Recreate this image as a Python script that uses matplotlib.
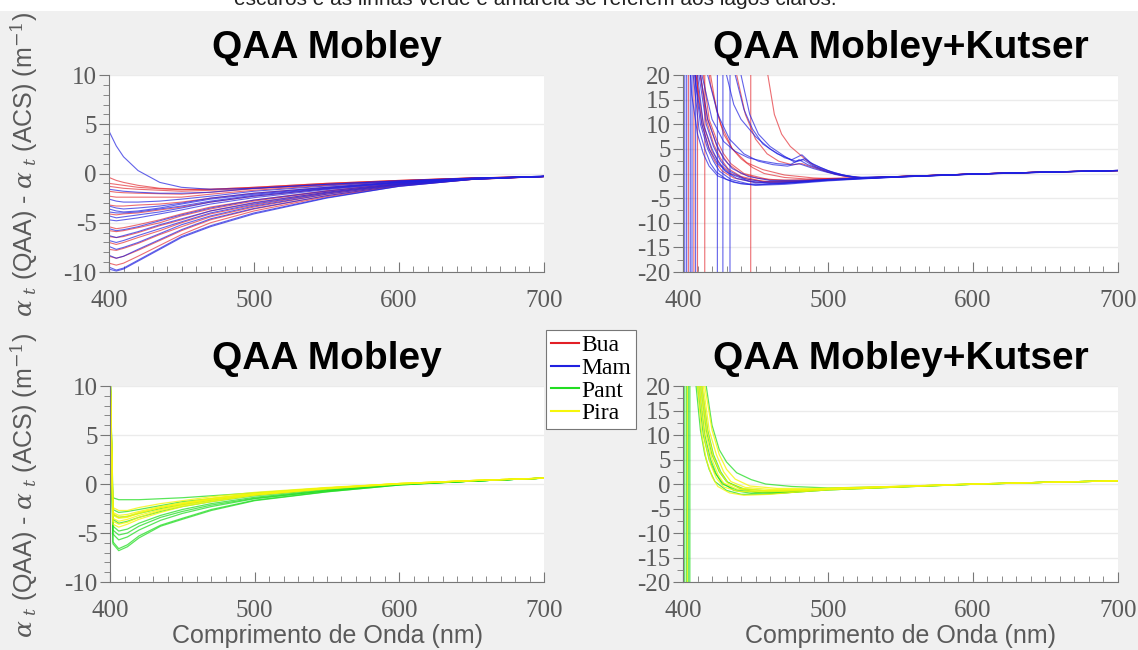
import matplotlib.pyplot as plt
from matplotlib.ticker import MultipleLocator
from matplotlib.lines import Line2D
from matplotlib.patches import Rectangle

plt.rcParams['axes.unicode_minus'] = False
plt.rcParams['mathtext.fontset'] = 'dejavuserif'

# ---- QAA Mobley, lagos escuros (Bua / Mam) ----
wl_escuro = [400, 405, 410, 420, 435, 450, 470, 500, 550, 600, 650, 700]
bua_mobley = [
    [-0.4, -0.7, -0.9, -1.2, -1.5, -1.6, -1.6, -1.4, -1.0, -0.7, -0.45, -0.3],
    [-1.0, -1.1, -1.2, -1.4, -1.55, -1.65, -1.6, -1.4, -1.0, -0.7, -0.45, -0.3],
    [-1.3, -1.4, -1.5, -1.6, -1.7, -1.8, -1.7, -1.5, -1.05, -0.72, -0.46, -0.3],
    [-1.8, -1.9, -1.95, -2.0, -2.05, -2.1, -1.9, -1.55, -1.15, -0.75, -0.47, -0.3],
    [-2.3, -2.4, -2.4, -2.4, -2.4, -2.4, -2.1, -1.7, -1.2, -0.8, -0.48, -0.3],
    [-3.2, -3.3, -3.3, -3.2, -3.1, -2.9, -2.5, -2.0, -1.4, -0.85, -0.5, -0.3],
    [-4.1, -4.2, -4.1, -4.0, -3.7, -3.4, -2.9, -2.3, -1.55, -0.92, -0.52, -0.3],
    [-5.4, -5.6, -5.5, -5.2, -4.7, -4.1, -3.4, -2.7, -1.75, -1.0, -0.54, -0.3],
    [-5.8, -5.9, -5.8, -5.5, -5.0, -4.3, -3.6, -2.8, -1.8, -1.03, -0.55, -0.3],
    [-6.4, -6.5, -6.4, -6.0, -5.3, -4.7, -3.8, -3.0, -1.9, -1.08, -0.56, -0.3],
    [-7.0, -7.2, -7.0, -6.5, -5.8, -5.0, -4.1, -3.2, -2.0, -1.12, -0.57, -0.3],
    [-7.7, -7.8, -7.6, -7.1, -6.2, -5.4, -4.4, -3.4, -2.1, -1.17, -0.58, -0.3],
    [-8.4, -8.6, -8.4, -7.8, -6.8, -5.8, -4.7, -3.6, -2.25, -1.22, -0.6, -0.3],
    [-9.1, -9.3, -9.1, -8.4, -7.3, -6.2, -5.0, -3.8, -2.35, -1.27, -0.61, -0.3],
]
mam_mobley = [
    [4.3, 2.8, 1.7, 0.3, -0.9, -1.4, -1.6, -1.5, -1.1, -0.75, -0.5, -0.3],
    [-1.6, -1.7, -1.8, -1.9, -2.0, -2.0, -1.9, -1.5, -1.1, -0.74, -0.46, -0.3],
    [-2.6, -2.8, -2.9, -2.9, -2.8, -2.6, -2.3, -1.8, -1.27, -0.8, -0.48, -0.3],
    [-3.3, -3.5, -3.6, -3.5, -3.3, -3.0, -2.5, -2.0, -1.4, -0.85, -0.5, -0.3],
    [-3.6, -3.8, -3.9, -3.8, -3.5, -3.1, -2.6, -2.1, -1.45, -0.88, -0.5, -0.3],
    [-3.9, -4.0, -4.0, -3.9, -3.6, -3.3, -2.8, -2.2, -1.5, -0.9, -0.51, -0.3],
    [-4.3, -4.5, -4.4, -4.2, -3.9, -3.5, -2.9, -2.3, -1.56, -0.93, -0.52, -0.3],
    [-4.7, -4.8, -4.7, -4.5, -4.1, -3.7, -3.1, -2.45, -1.63, -0.96, -0.53, -0.3],
    [-5.6, -5.8, -5.7, -5.4, -4.8, -4.2, -3.5, -2.7, -1.78, -1.02, -0.54, -0.3],
    [-6.3, -6.5, -6.3, -5.9, -5.2, -4.6, -3.8, -2.95, -1.9, -1.07, -0.56, -0.3],
    [-6.8, -7.0, -6.8, -6.3, -5.6, -4.9, -4.0, -3.1, -1.98, -1.1, -0.57, -0.3],
    [-7.4, -7.7, -7.5, -7.0, -6.1, -5.2, -4.3, -3.3, -2.1, -1.15, -0.58, -0.3],
    [-8.3, -8.6, -8.4, -7.7, -6.7, -5.7, -4.6, -3.55, -2.25, -1.2, -0.6, -0.3],
    [-9.5, -9.8, -9.6, -8.8, -7.6, -6.4, -5.3, -4.0, -2.45, -1.3, -0.6, -0.25],
    [-9.7, -9.9, -9.7, -8.9, -7.7, -6.5, -5.4, -4.1, -2.5, -1.3, -0.6, -0.25],
]

# ---- QAA Mobley, lagos claros (Pant / Pira) ----
wl_claro = [400, 402, 406, 412, 420, 435, 450, 470, 500, 550, 600, 650, 700]
pant_mobley = [
    [12, -1.4, -1.6, -1.6, -1.6, -1.5, -1.4, -1.2, -0.9, -0.4, 0.0, 0.3, 0.6],
    [12, -2.6, -2.9, -2.8, -2.6, -2.2, -1.8, -1.5, -1.0, -0.45, 0.0, 0.3, 0.6],
    [12, -3.1, -3.4, -3.3, -3.0, -2.5, -2.1, -1.65, -1.1, -0.5, 0.0, 0.3, 0.6],
    [12, -3.6, -4.0, -3.8, -3.4, -2.8, -2.3, -1.8, -1.2, -0.55, -0.05, 0.3, 0.6],
    [12, -4.3, -4.8, -4.6, -4.0, -3.2, -2.6, -2.0, -1.35, -0.62, -0.05, 0.3, 0.6],
    [12, -4.7, -5.2, -5.0, -4.3, -3.4, -2.8, -2.15, -1.45, -0.68, -0.05, 0.3, 0.6],
    [12, -5.1, -5.7, -5.4, -4.7, -3.7, -3.0, -2.3, -1.5, -0.7, -0.05, 0.3, 0.6],
    [12, -5.9, -6.6, -6.2, -5.3, -4.2, -3.5, -2.6, -1.65, -0.78, -0.1, 0.3, 0.6],
    [12, -6.1, -6.8, -6.4, -5.5, -4.3, -3.6, -2.7, -1.7, -0.8, -0.1, 0.3, 0.6],
]
pira_mobley = [
    [12, -2.4, -2.7, -2.7, -2.4, -2.0, -1.7, -1.3, -0.85, -0.35, 0.05, 0.35, 0.6],
    [12, -2.9, -3.2, -3.1, -2.8, -2.3, -1.9, -1.45, -0.95, -0.4, 0.05, 0.35, 0.6],
    [12, -3.2, -3.5, -3.4, -3.0, -2.4, -2.0, -1.55, -1.0, -0.4, 0.05, 0.35, 0.6],
    [12, -3.5, -3.8, -3.6, -3.2, -2.6, -2.1, -1.6, -1.05, -0.45, 0.05, 0.35, 0.6],
    [12, -3.8, -4.1, -3.9, -3.4, -2.7, -2.2, -1.7, -1.1, -0.45, 0.0, 0.35, 0.6],
    [12, -4.1, -4.4, -4.1, -3.6, -2.9, -2.3, -1.8, -1.15, -0.5, 0.0, 0.35, 0.6],
    [12, -3.0, -3.4, -3.3, -2.9, -2.4, -2.0, -1.5, -1.0, -0.42, 0.05, 0.35, 0.6],
]

# ---- QAA Mobley+Kutser: pares (comprimento de onda, valor) por curva ----
bua_kutser = [
    [(403.5, -300), (403.9, 300), (406, 55), (409, 20), (413, 10), (418, 5), (422, 2.5), (427, 0.5), (435, -0.9), (450, -1.8), (470, -1.8), (500, -1.3), (520, -1.0), (550, -0.65), (600, -0.12), (650, 0.28), (700, 0.6)],
    [(407.3, -300), (407.7, 300), (409, 60), (412, 20), (416, 11), (421, 6), (426, 3), (431, 1), (440, -0.6), (455, -1.6), (480, -1.6), (500, -1.2), (520, -1.0), (550, -0.6), (600, -0.1), (650, 0.3), (700, 0.62)],
    [(409.8, -300), (410.2, 300), (411, 70), (414, 20), (418, 11), (423, 7), (428, 4), (433, 2), (442, 0), (460, -1.3), (485, -1.4), (500, -1.1), (520, -0.95), (550, -0.6), (600, -0.1), (650, 0.3), (700, 0.6)],
    [(414.8, -300), (415.2, 300), (416, 70), (419, 20), (423, 13), (428, 8), (434, 5), (440, 3), (448, 1.2), (456, 0), (470, -0.8), (485, -1.1), (500, -1.0), (520, -0.9), (550, -0.6), (600, -0.1), (650, 0.3), (700, 0.6)],
    [(446.5, -300), (446.9, 300), (452, 60), (458.5, 20), (463, 12), (468, 8), (474, 5.5), (480, 4), (486, 2.5), (492, 1.3), (500, 0.3), (510, -0.5), (525, -0.9), (550, -0.65), (600, -0.1), (650, 0.3), (700, 0.62)],
    [(400, 300), (430, 45), (437, 20), (443, 12), (450, 7), (458, 4), (466, 2.5), (475, 1.8), (482, 2.0), (490, 1.2), (500, 0.3), (512, -0.5), (525, -0.9), (550, -0.6), (600, -0.1), (650, 0.3), (700, 0.6)],
    [(400, 300), (405, 40), (409, 20), (414, 10), (420, 4.5), (426, 1.8), (433, 0), (445, -1.2), (460, -1.7), (480, -1.6), (500, -1.2), (520, -1.0), (550, -0.62), (600, -0.12), (650, 0.28), (700, 0.6)],
    [(400, 300), (408, 40), (412, 20), (417, 11), (424, 5), (431, 2), (440, 0), (452, -1.0), (470, -1.4), (500, -1.1), (520, -0.95), (550, -0.6), (600, -0.1), (650, 0.3), (700, 0.6)],
    [(400, 300), (414, 30), (419, 18), (426, 10), (434, 5), (444, 2.2), (455, 0.8), (470, -0.3), (490, -0.9), (500, -1.0), (520, -0.9), (550, -0.6), (600, -0.1), (650, 0.3), (700, 0.6)],
]
mam_kutser = [
    [(401.0, -300), (401.4, 300), (404, 45), (407, 20), (411, 9), (415, 5), (419, 2), (423, 0.3), (430, -1.2), (440, -2.1), (450, -2.3), (470, -2.0), (500, -1.4), (520, -1.1), (550, -0.7), (600, -0.15), (650, 0.25), (700, 0.6)],
    [(402.3, -300), (402.7, 300), (405, 50), (408, 20), (412, 10), (417, 5), (421, 2.5), (425, 0.5), (433, -1.2), (445, -2.1), (455, -2.2), (475, -1.9), (500, -1.3), (520, -1.0), (550, -0.65), (600, -0.12), (650, 0.28), (700, 0.62)],
    [(404.8, -300), (405.2, 300), (407, 60), (410, 20), (414, 10), (420, 5), (424, 2.5), (429, 0.5), (437, -1.0), (450, -1.9), (470, -1.9), (500, -1.3), (520, -1.05), (550, -0.68), (600, -0.13), (650, 0.27), (700, 0.6)],
    [(406.0, -300), (406.4, 300), (408, 60), (411, 20), (416, 10), (421, 5.5), (426, 2.5), (432, 0.5), (442, -1.0), (455, -1.7), (480, -1.6), (500, -1.2), (520, -1.0), (550, -0.65), (600, -0.12), (650, 0.28), (700, 0.6)],
    [(408.5, -300), (408.9, 300), (410, 60), (412, 20), (417, 11), (423, 6), (428, 3), (434, 1), (445, -0.6), (460, -1.4), (485, -1.4), (500, -1.2), (520, -1.0), (550, -0.62), (600, -0.1), (650, 0.3), (700, 0.62)],
    [(423.5, -300), (423.9, 300), (427, 50), (430, 20), (435, 14), (440, 11), (450, 7.5), (460, 5), (470, 3.2), (478, 2.5), (484, 3), (490, 1.8), (500, 0.6), (510, -0.3), (520, -0.8), (550, -0.6), (600, -0.1), (650, 0.3), (700, 0.62)],
    [(427.3, -300), (427.7, 300), (432, 40), (436, 20), (442, 13), (448, 9), (455, 6), (465, 4), (475, 2.8), (482, 3.8), (488, 2.2), (495, 1.2), (505, 0), (520, -0.8), (550, -0.6), (600, -0.1), (650, 0.3), (700, 0.62)],
    [(432.2, -300), (432.6, 300), (436, 45), (440, 20), (446, 12), (452, 8), (460, 5.5), (470, 3.5), (477, 2.3), (483, 2.8), (490, 1.5), (500, 0.5), (512, -0.4), (525, -0.9), (550, -0.62), (600, -0.1), (650, 0.3), (700, 0.62)],
    [(400, 300), (403, 30), (406, 16), (410, 8), (414, 4), (418, 1.5), (424, -0.5), (435, -1.8), (450, -2.4), (470, -2.2), (500, -1.5), (520, -1.15), (550, -0.7), (600, -0.15), (650, 0.25), (700, 0.6)],
    [(400, 300), (405, 35), (409, 18), (413, 10), (418, 5), (424, 2), (432, 0), (445, -1.5), (460, -2.0), (480, -1.8), (500, -1.3), (520, -1.05), (550, -0.66), (600, -0.12), (650, 0.28), (700, 0.6)],
    [(400, 300), (409, 35), (413, 20), (420, 11), (428, 6.5), (436, 4.5), (445, 3.2), (455, 2.5), (465, 2.0), (474, 1.8), (480, 2.8), (486, 1.8), (495, 0.8), (505, -0.2), (520, -0.9), (550, -0.62), (600, -0.1), (650, 0.3), (700, 0.62)],
    [(400, 300), (412, 40), (417, 20), (424, 12), (432, 7), (442, 4), (452, 2.5), (462, 1.8), (472, 1.5), (480, 2.0), (490, 1.0), (500, 0.2), (515, -0.7), (530, -0.9), (550, -0.65), (600, -0.1), (650, 0.3), (700, 0.62)],
]
pant_kutser = [
    [(401.0, -300), (401.4, 300), (404, 60), (409, 20), (412, 11), (415, 6), (418, 3), (422, 0.5), (430, -1.3), (440, -2.1), (455, -2.1), (480, -1.6), (500, -1.2), (550, -0.6), (600, -0.05), (650, 0.35), (700, 0.65)],
    [(402.3, -300), (402.7, 300), (405, 60), (410, 20), (414, 10), (418, 5), (422, 2.3), (427, 0.3), (435, -1.3), (447, -1.9), (470, -1.8), (500, -1.2), (550, -0.6), (600, -0.05), (650, 0.35), (700, 0.65)],
    [(403.4, -300), (403.8, 300), (406, 70), (412, 20), (416, 11), (420, 6), (425, 2.5), (430, 0.5), (440, -1.0), (452, -1.7), (475, -1.6), (500, -1.1), (550, -0.55), (600, -0.05), (650, 0.35), (700, 0.65)],
    [(404.5, -300), (404.9, 300), (407, 80), (416, 20), (420, 12), (425, 7), (430, 4.5), (437, 2.3), (447, 0.9), (457, 0), (475, -0.5), (500, -0.8), (550, -0.5), (600, 0.0), (650, 0.35), (700, 0.65)],
    [(400, 300), (407, 50), (411, 20), (415, 10), (419, 5), (423, 2), (427, 0), (437, -1.2), (450, -1.7), (475, -1.6), (500, -1.1), (550, -0.55), (600, -0.05), (650, 0.35), (700, 0.65)],
    [(400, 300), (408, 50), (413, 20), (417, 11), (421, 6), (426, 2.5), (431, 0.3), (442, -1.0), (458, -1.4), (480, -1.3), (500, -1.0), (550, -0.5), (600, 0.0), (650, 0.35), (700, 0.65)],
]
pira_kutser = [
    [(402.8, -300), (403.2, 300), (406, 60), (411, 20), (415, 9), (419, 4), (423, 1.2), (428, -0.6), (438, -1.5), (455, -1.6), (480, -1.4), (500, -1.1), (550, -0.55), (600, -0.02), (650, 0.35), (700, 0.65)],
    [(400, 300), (406, 45), (410, 20), (413, 10), (416, 5), (420, 1.5), (424, -0.5), (432, -1.8), (442, -2.3), (460, -2.1), (480, -1.6), (500, -1.2), (550, -0.6), (600, -0.05), (650, 0.35), (700, 0.65)],
    [(400, 300), (408, 50), (412, 20), (416, 10), (420, 5), (424, 2), (428, 0.2), (437, -1.0), (450, -1.4), (475, -1.3), (500, -1.0), (550, -0.5), (600, 0.0), (650, 0.35), (700, 0.65)],
    [(400, 300), (409, 50), (413, 20), (417, 10.5), (421, 5.5), (426, 2.2), (431, 0.2), (440, -0.9), (455, -1.3), (480, -1.2), (500, -1.0), (550, -0.5), (600, 0.0), (650, 0.35), (700, 0.65)],
    [(400, 300), (410, 50), (414, 20), (418, 11), (423, 6), (428, 2.5), (433, 0.5), (443, -0.7), (460, -1.1), (485, -1.1), (500, -0.9), (550, -0.45), (600, 0.0), (650, 0.35), (700, 0.65)],
    [(400, 300), (411, 50), (415, 20), (420, 11), (425, 6), (430, 3), (436, 1), (446, -0.4), (465, -0.9), (490, -0.9), (500, -0.85), (550, -0.45), (600, 0.0), (650, 0.35), (700, 0.65)],
]

lagos = ['Bua', 'Mam', 'Pant', 'Pira']
cores = {'Bua': '#e21f26', 'Mam': '#2020e0', 'Pant': '#22dd22', 'Pira': '#f6f60a'}
alfa = {'Bua': 0.65, 'Mam': 0.7, 'Pant': 0.75, 'Pira': 0.8}

cinza = '#5a5a5a'
fig = plt.figure(figsize=(11.38, 6.5), dpi=100, facecolor='#f0f0f0')

# faixa branca com o texto cortado do slide
fig.patches.append(Rectangle((0, 0.983), 1, 0.017, transform=fig.transFigure,
                             facecolor='white', edgecolor='none', zorder=0))
fig.text(0.470, 0.993, 'escuros e as linhas verde e amarela se referem aos lagos claros.',
         ha='center', va='baseline', fontsize=15, family='Liberation Sans', color='#222222')

ax_tl = fig.add_axes([0.0958, 0.5815, 0.3822, 0.3031])
ax_tr = fig.add_axes([0.6002, 0.5815, 0.3822, 0.3031])
ax_bl = fig.add_axes([0.0967, 0.1046, 0.3813, 0.3015])
ax_br = fig.add_axes([0.6002, 0.1046, 0.3822, 0.3015])


def estilo(ax, lim, passo, menor, titulo):
    ax.set_facecolor('white')
    ax.set_xlim(400, 700)
    ax.set_ylim(-lim, lim)
    ax.xaxis.set_major_locator(MultipleLocator(100))
    ax.xaxis.set_minor_locator(MultipleLocator(10))
    ax.yaxis.set_major_locator(MultipleLocator(passo))
    ax.yaxis.set_minor_locator(MultipleLocator(menor))
    ax.tick_params(axis='x', which='both', direction='in', colors='#777777', labelcolor=cinza,
                   labelsize=18, pad=13)
    ax.tick_params(axis='y', which='both', direction='out', colors='#777777', labelcolor=cinza,
                   labelsize=18, pad=2)
    ax.tick_params(which='major', length=7)
    ax.tick_params(which='minor', length=4)
    for lab in ax.get_xticklabels() + ax.get_yticklabels():
        lab.set_family('Liberation Serif')
    for s in ['top', 'right']:
        ax.spines[s].set_visible(False)
    for s in ['left', 'bottom']:
        ax.spines[s].set_color('#777777')
    ax.grid(axis='y', which='major', color='#ebebeb', lw=1)
    ax.set_axisbelow(True)
    ax.set_title(titulo, fontsize=28, fontweight='bold', family='Liberation Sans', pad=12)


for curva in bua_mobley:
    ax_tl.plot(wl_escuro, curva, color=cores['Bua'], lw=0.8, alpha=alfa['Bua'])
for curva in mam_mobley:
    ax_tl.plot(wl_escuro, curva, color=cores['Mam'], lw=0.8, alpha=alfa['Mam'])
for curva in bua_kutser:
    x, y = zip(*curva)
    ax_tr.plot(x, y, color=cores['Bua'], lw=0.8, alpha=alfa['Bua'])
for curva in mam_kutser:
    x, y = zip(*curva)
    ax_tr.plot(x, y, color=cores['Mam'], lw=0.8, alpha=alfa['Mam'])
for curva in pant_mobley:
    ax_bl.plot(wl_claro, curva, color=cores['Pant'], lw=0.9, alpha=alfa['Pant'])
for curva in pira_mobley:
    ax_bl.plot(wl_claro, curva, color=cores['Pira'], lw=0.9, alpha=alfa['Pira'])
for curva in pant_kutser:
    x, y = zip(*curva)
    ax_br.plot(x, y, color=cores['Pant'], lw=0.9, alpha=alfa['Pant'])
for curva in pira_kutser:
    x, y = zip(*curva)
    ax_br.plot(x, y, color=cores['Pira'], lw=0.9, alpha=alfa['Pira'])

estilo(ax_tl, 10, 5, 1, 'QAA Mobley')
estilo(ax_tr, 20, 5, 2.5, 'QAA Mobley+Kutser')
estilo(ax_bl, 10, 5, 1, 'QAA Mobley')
estilo(ax_br, 20, 5, 2.5, 'QAA Mobley+Kutser')

rotulo_y = r'$\alpha_{\ t}$ (QAA) - $\alpha_{\ t}$ (ACS) (m$^{-1}$)'
fig.text(0.021, 0.748, rotulo_y, rotation=90, ha='center', va='center',
         fontsize=18, family='Liberation Sans', color=cinza)
fig.text(0.021, 0.254, rotulo_y, rotation=90, ha='center', va='center',
         fontsize=18, family='Liberation Sans', color=cinza)
for ax in (ax_bl, ax_br):
    ax.set_xlabel('Comprimento de Onda (nm)', fontsize=18, family='Liberation Sans',
                  color=cinza, labelpad=1.5)

alcas = [Line2D([], [], color=cores[l], lw=1.5) for l in lagos]
leg = fig.legend(alcas, lagos, loc='upper left', bbox_to_anchor=(0.4798, 0.4923),
                 prop={'family': 'Liberation Serif', 'size': 17}, handlelength=1.2,
                 handletextpad=0.1, labelspacing=0.05, borderpad=0.2, borderaxespad=0,
                 fancybox=False, framealpha=1, edgecolor='#777777')
leg.get_frame().set_linewidth(0.8)

fig.savefig('out.png', dpi=100, facecolor=fig.get_facecolor())
